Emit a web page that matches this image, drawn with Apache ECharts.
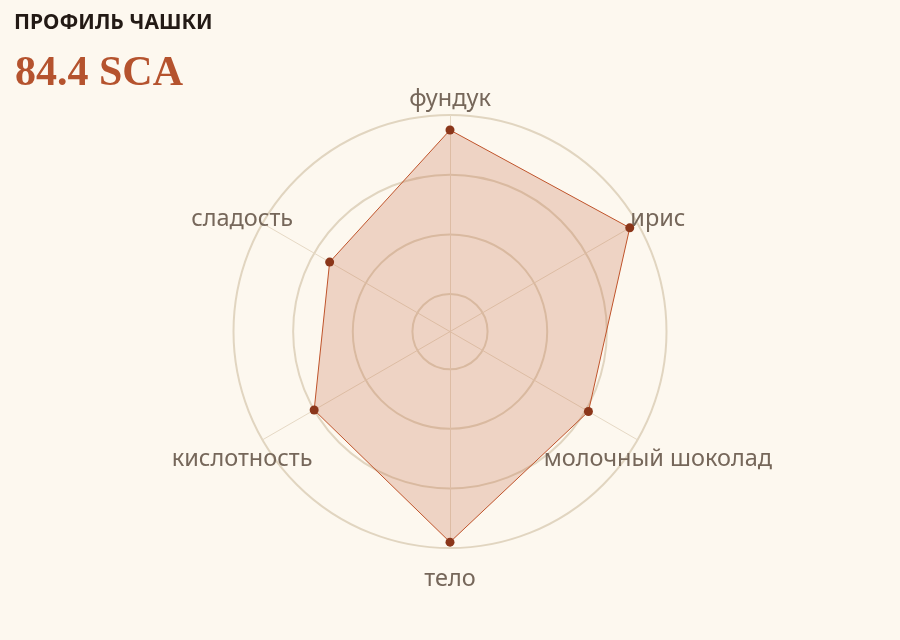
<!DOCTYPE html>
<html>
<head>
<meta charset="utf-8">
<script src="https://cdn.jsdelivr.net/npm/echarts@6/dist/echarts.min.js"></script>
<style>
html,body{margin:0;padding:0;background:#fdf8ef;}
#chart{width:900px;height:640px;}
</style>
</head>
<body>
<div id="chart"></div>
<script>
// Indicators listed counter-clockwise from the top (ECharts radar order)
const indicatorNames = ['фундук', 'сладость', 'кислотность', 'тело', 'молочный шоколад', 'ирис'];
const cupScores = [9.75, 8.7, 9.0, 9.9, 9.05, 9.85];
const scaleMin = 6.37;
const scaleMax = 10;
const titleText = 'ПРОФИЛЬ ЧАШКИ';
const scoreText = '84.4 SCA';

const chart = echarts.init(document.getElementById('chart'));
const center = [450, 331.6];
const radius = 216.5;

chart.setOption({
  backgroundColor: '#fdf8ef',
  animation: false,
  title: [
    { text: titleText, left: 14, top: 13, padding: 0,
      textStyle: { fontFamily: 'Noto Sans', fontWeight: 'bold', fontSize: 21, color: '#231a15' } },
    { text: scoreText, left: 15, top: 53, padding: 0,
      textStyle: { fontFamily: 'Liberation Serif', fontWeight: 'bold', fontSize: 42, color: '#b5532e' } }
  ],
  polar: { center: center, radius: radius },
  angleAxis: { type: 'value', min: 0, max: 360, show: false },
  radiusAxis: {
    type: 'value', min: scaleMin, max: scaleMax,
    axisLine: { show: false }, axisTick: { show: false }, axisLabel: { show: false },
    splitLine: { show: true, lineStyle: { color: '#e1d5c0', width: 2 } }
  },
  radar: {
    center: center,
    radius: radius,
    startAngle: 90,
    shape: 'polygon',
    splitNumber: 4,
    nameGap: 23.5,
    indicator: indicatorNames.map(n => ({ name: n, min: scaleMin, max: scaleMax })),
    axisName: {
      formatter: function (name) { return '\n' + name; },
      color: '#76675a', fontFamily: 'Noto Sans', fontSize: 23.5, lineHeight: 16,
      align: 'center', verticalAlign: 'middle'
    },
    axisLine: { lineStyle: { color: '#e6d9c5', width: 1 } },
    splitLine: { show: false },
    splitArea: { show: false }
  },
  series: [{
    type: 'radar',
    symbol: 'circle',
    symbolSize: 9,
    itemStyle: { color: '#8b361a' },
    lineStyle: { color: '#c0532a', width: 1 },
    areaStyle: { color: 'rgba(192,96,58,0.34)' },
    data: [{ value: cupScores, name: 'profile' }]
  }]
});
</script>
</body>
</html>
